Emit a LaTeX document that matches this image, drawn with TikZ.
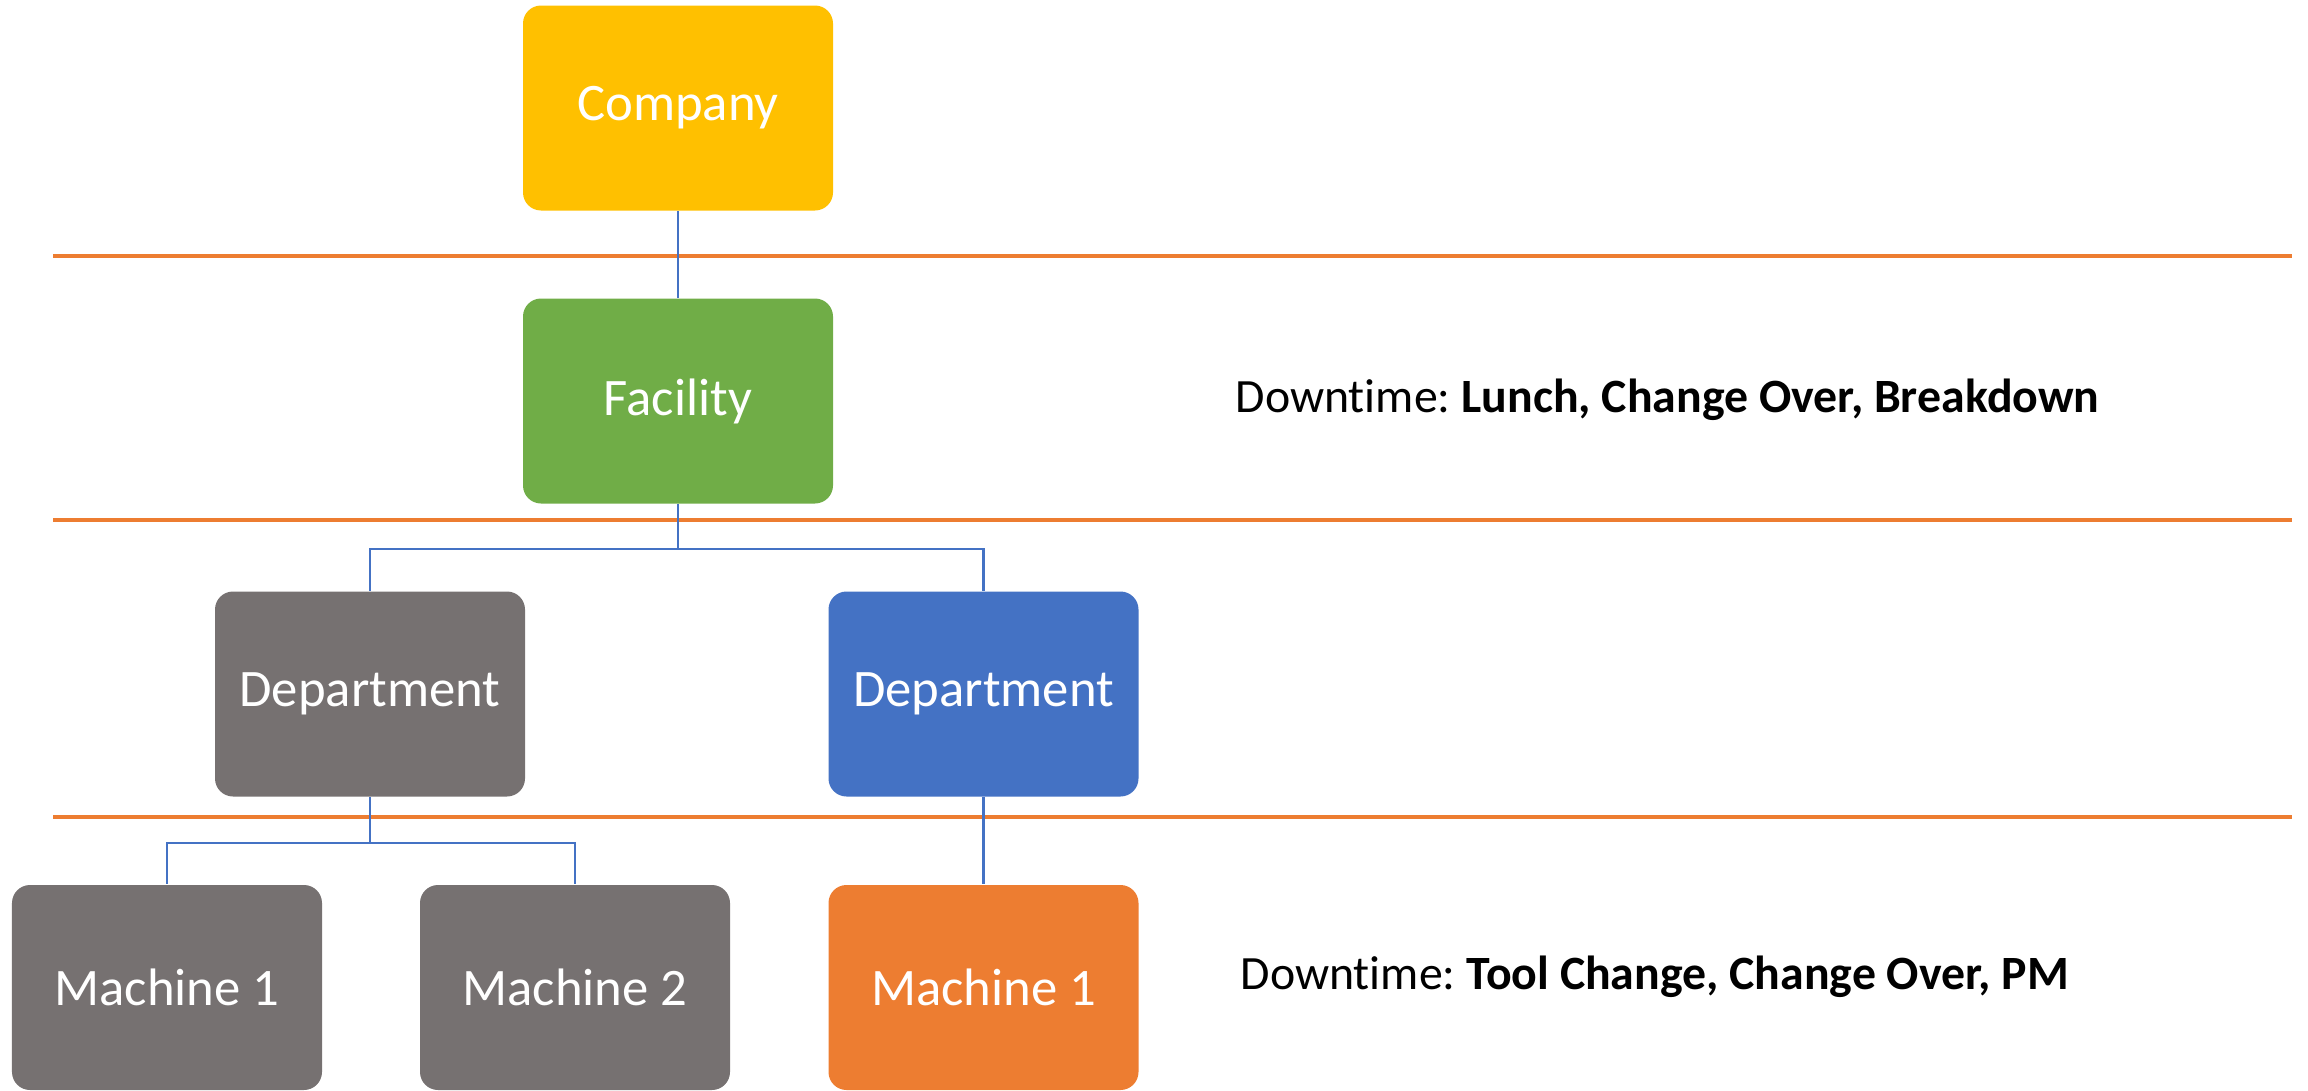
\documentclass[tikz,border=0pt]{standalone}
\usepackage{fontspec}
\setmainfont{Carlito}[Ligatures=NoCommon]
\frenchspacing
\definecolor{companycol}{RGB}{255, 192, 0}
\definecolor{facilitycol}{RGB}{112, 173, 71}
\definecolor{greycol}{RGB}{118, 113, 113}
\definecolor{bluecol}{RGB}{68, 114, 196}
\definecolor{orangecol}{RGB}{237, 125, 49}
\tikzstyle{level} = [rectangle, rounded corners=0.18cm,
                     minimum width=3.1cm, minimum height=2.05cm,
                     text centered, text=white, inner sep=0pt,
                     font=\fontsize{15}{18}\selectfont]
\tikzstyle{link} = [draw=bluecol, line width=0.6pt]
\tikzstyle{divider} = [draw=orangecol, line width=1pt]
\tikzstyle{note} = [anchor=west, inner sep=0pt,
                    font=\fontsize{13.6}{16}\selectfont]

\begin{document}
\begin{tikzpicture}
        \useasboundingbox (0,0) rectangle (23.08,-10.91);

        % level separators
        \draw [divider] (0.53,-2.56) -- (22.92,-2.56);
        \draw [divider] (0.53,-5.20) -- (22.92,-5.20);
        \draw [divider] (0.53,-8.17) -- (22.92,-8.17);

        \node (Company) [level, fill=companycol, xshift=6.78cm, yshift=-1.08cm] {Company};

        \node (Facility) [level, fill=facilitycol, xshift=6.78cm, yshift=-4.01cm] {Facility};

        \node (DeptA) [level, fill=greycol, xshift=3.70cm, yshift=-6.94cm] {Department};

        \node (DeptB) [level, fill=bluecol, xshift=9.835cm, yshift=-6.94cm] {Department};

        \node (MachA) [level, fill=greycol, xshift=1.67cm, yshift=-9.875cm] {Machine 1};

        \node (MachB) [level, fill=greycol, xshift=5.75cm, yshift=-9.875cm] {Machine 2};

        \node (MachC) [level, fill=orangecol, xshift=9.835cm, yshift=-9.875cm] {Machine 1};

        \node (NoteFacility) [note, xshift=12.35cm, yshift=-4.00cm] {Downtime: \textbf{Lunch, Change Over, Breakdown}};

        \node (NoteMachine) [note, xshift=12.40cm, yshift=-9.77cm] {Downtime: \textbf{Tool Change, Change Over, PM}};

        \draw [link] (Company) -- (Facility); %company
        \draw [link] (Facility.south) -- ++(0,-0.45) -| (DeptA.north); %facility
        \draw [link] (Facility.south) -- ++(0,-0.45) -| (DeptB.north);
        \draw [link] (DeptA.south) -- ++(0,-0.46) -| (MachA.north); %department
        \draw [link] (DeptA.south) -- ++(0,-0.46) -| (MachB.north);
        \draw [link] (DeptB) -- (MachC);

    \end{tikzpicture}
\end{document}
